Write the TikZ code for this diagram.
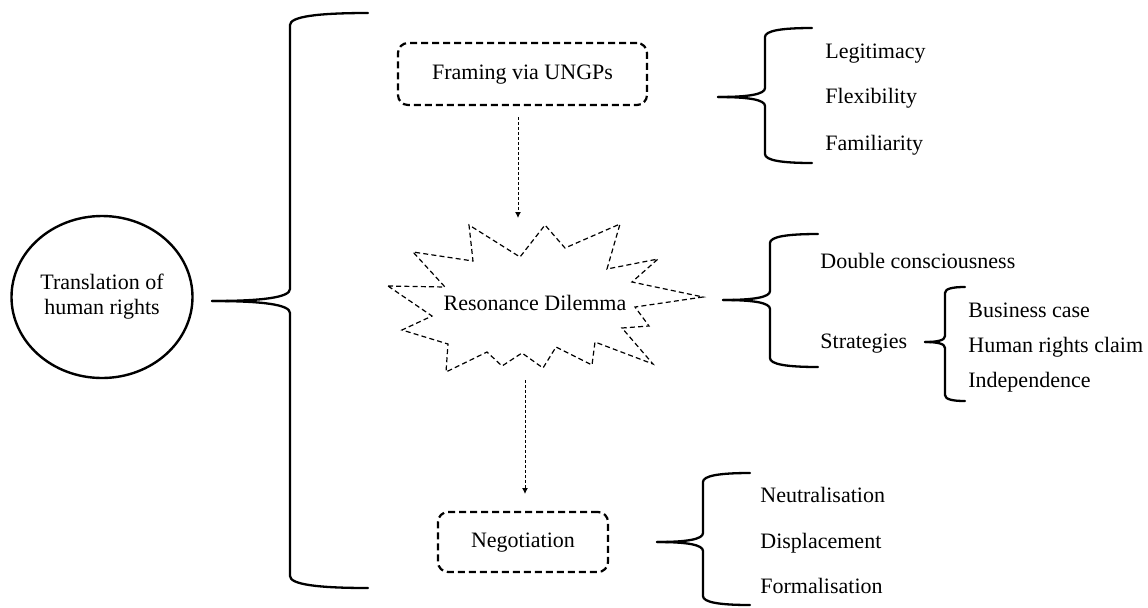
\documentclass[tikz,border=0pt]{standalone}
\usepackage{fontspec}
\setmainfont{Liberation Serif}
\usetikzlibrary{arrows.meta,shapes.geometric}
\newcommand\drawcurly[7]{% tipx tipy vx top bottom endx size
 \draw[bracel] (#1,#2) .. controls ({#3-0.35*(#3-#1)},#2) and (#3,{#2-0.3*#7}) .. (#3,{#2-#7}) -- (#3,{#4+#7}) .. controls (#3,{#4+0.3*#7}) and ({#3+0.35*(#6-#3)},#4) .. (#6,#4);
 \draw[bracel] (#1,#2) .. controls ({#3-0.35*(#3-#1)},#2) and (#3,{#2+0.3*#7}) .. (#3,{#2+#7}) -- (#3,{#5-#7}) .. controls (#3,{#5-0.3*#7}) and ({#3+0.35*(#6-#3)},#5) .. (#6,#5);
}
\begin{document}
\begin{tikzpicture}[x=0.5pt,y=-0.5pt,
  lbl/.style={font=\fontsize{11}{12.5}\selectfont, inner sep=0pt, text height=0.7em, text depth=0.2em},
  item/.style={lbl, anchor=west},
  bracel/.style={line width=1.15pt, line join=round, line cap=round},
  dbox/.style={draw, dash pattern=on 3.5pt off 2pt, line width=1.1pt, rounded corners=5pt},
  starl/.style={dash pattern=on 2.5pt off 1.6pt, line width=0.6pt},
  arr/.style={dash pattern=on 1.5pt off 1pt, line width=0.5pt, -{Latex[length=3pt,width=3pt]}},
]
\useasboundingbox (0,0) rectangle (1148,607);

% central concept
\node (trans) [draw, ellipse, line width=1.2pt, minimum width=90.5pt, minimum height=81pt,
  inner sep=0pt, align=center, font=\fontsize{11}{12.5}\selectfont] at (102,297) {Translation of\\human rights};

% big brace
\drawcurly{212}{301}{290}{13}{588}{368}{12}

% framing box
\node (frame) [dbox, lbl, minimum width=124.5pt, minimum height=31pt] at (522.5,74) {Framing via UNGPs};

% resonance starburst
\draw[starl] (388,286) -- (445,287) -- (413,252) -- (473,261) -- (469,225) -- (520,257)
  -- (545,225) -- (565,248) -- (620,224) -- (607,269) -- (658,259) -- (632,282)
  -- (703,297) -- (635,307) -- (649,326) -- (622,328) -- (653,364) -- (595,342)
  -- (592,365) -- (556,347) -- (543,368) -- (522,353) -- (502,366) -- (487,352)
  -- (446,372) -- (448,344) -- (402,330) -- (432,316) -- cycle;
\node (res) [lbl] at (535,305) {Resonance Dilemma};

% negotiation box
\node (neg) [dbox, lbl, minimum width=85pt, minimum height=30pt] at (523,542) {Negotiation};

% arrows
\coordinate (a1s) at (518,117);
\coordinate (a1e) at (518,218);
\coordinate (a2s) at (525,380);
\coordinate (a2e) at (525,494);
\draw[arr] (a1s) -- (a1e);
\draw[arr] (a2s) -- (a2e);

% framing brace
\drawcurly{718}{97}{765}{28}{163}{812}{9}
\node (leg) [item] at (825,53) {Legitimacy};
\node (flex) [item] at (825,98) {Flexibility};
\node (fam) [item] at (825,145) {Familiarity};

% resonance brace
\drawcurly{723}{300}{770}{234}{367}{818}{9}
\node (dc) [item] at (820,263) {Double consciousness};
\node (strat) [item] at (820,343) {Strategies};

% strategies brace
\drawcurly{925}{342}{945}{287}{401}{965}{6}
\node (bc) [item] at (968,312) {Business case};
\node (hrc) [item] at (968,347) {Human rights claim};
\node (ind) [item] at (968,382) {Independence};

% negotiation brace
\drawcurly{657}{542}{703}{473}{605}{750}{9}
\node (neu) [item] at (760,497) {Neutralisation};
\node (dis) [item] at (760,543) {Displacement};
\node (form) [item] at (760,588) {Formalisation};
\end{tikzpicture}
\end{document}
